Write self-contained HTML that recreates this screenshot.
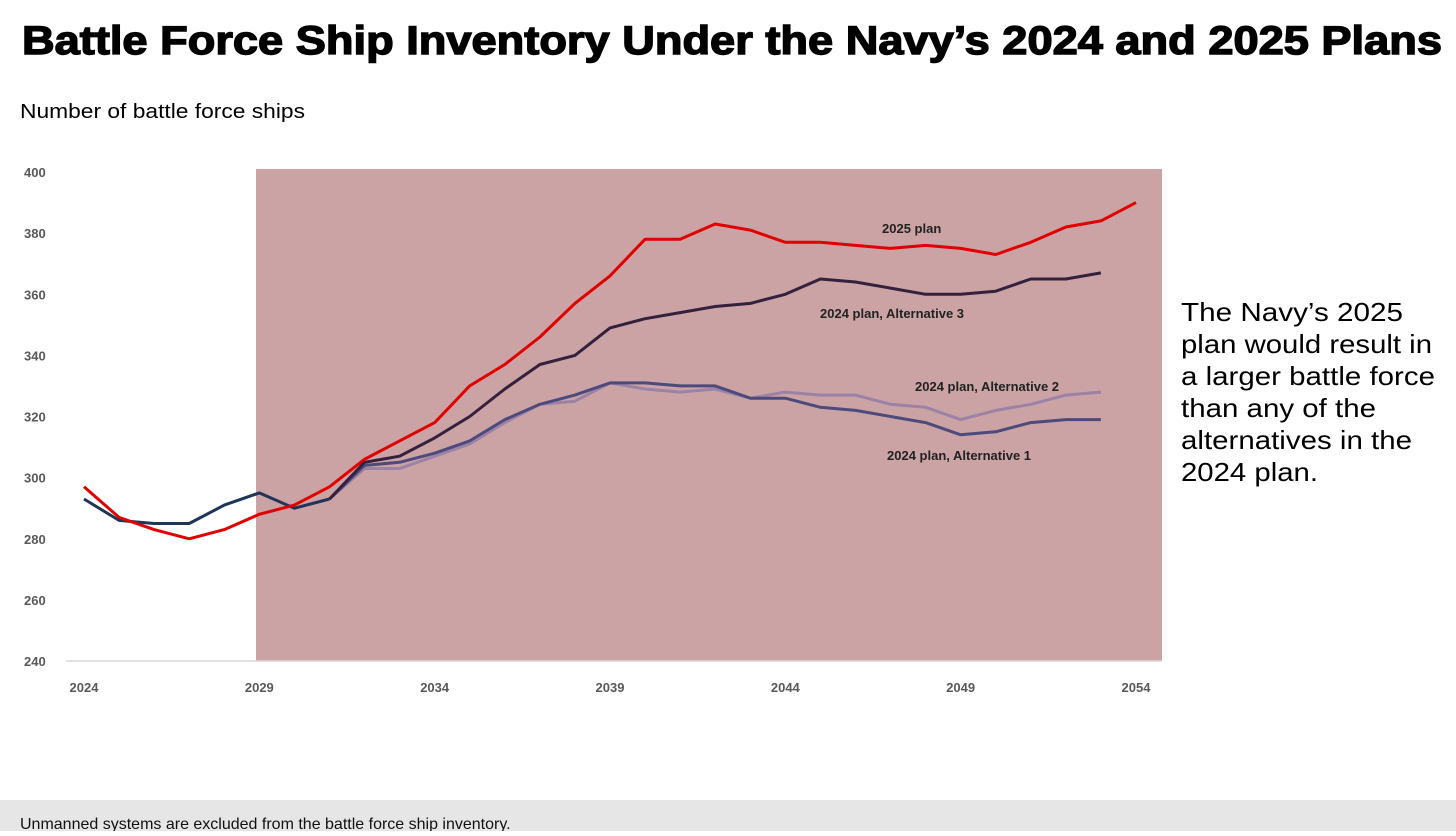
<!DOCTYPE html>
<html><head><meta charset="utf-8"><style>
html,body{margin:0;padding:0;background:#fff;}
body{width:1456px;height:831px;overflow:hidden;position:relative;font-family:"Liberation Sans",Arial,sans-serif;}
</style></head><body>
<svg id="chart" width="1456" height="831" xmlns="http://www.w3.org/2000/svg">
<text x="22" y="54" font-family="Liberation Sans, Arial, sans-serif" font-weight="bold" font-size="40" textLength="1420" lengthAdjust="spacingAndGlyphs" stroke="#000" stroke-width="1.4">Battle Force Ship Inventory Under the Navy’s 2024 and 2025 Plans</text>
<text x="20" y="118" font-size="20" textLength="285" lengthAdjust="spacingAndGlyphs" fill="#000">Number of battle force ships</text>
<rect x="256" y="169" width="906" height="492" fill="#cba3a4"/>
<line x1="66" y1="661" x2="1162" y2="661" stroke="#d9d9d9" stroke-width="1.5"/>
<g id="yticks"></g><g id="xticks"></g><g id="lines"></g>
<text x="882" y="233" font-size="13" font-weight="bold" fill="#222">2025 plan</text>
<text x="820" y="318" font-size="13" font-weight="bold" fill="#222">2024 plan, Alternative 3</text>
<text x="915" y="391" font-size="13" font-weight="bold" fill="#222">2024 plan, Alternative 2</text>
<text x="887" y="460" font-size="13" font-weight="bold" fill="#222">2024 plan, Alternative 1</text>
<g font-size="26" fill="#000" lengthAdjust="spacingAndGlyphs">
<text x="1181" y="321" textLength="222" lengthAdjust="spacingAndGlyphs">The Navy’s 2025</text>
<text x="1181" y="353" textLength="251" lengthAdjust="spacingAndGlyphs">plan would result in</text>
<text x="1181" y="385" textLength="254" lengthAdjust="spacingAndGlyphs">a larger battle force</text>
<text x="1181" y="417" textLength="195" lengthAdjust="spacingAndGlyphs">than any of the</text>
<text x="1181" y="449" textLength="231" lengthAdjust="spacingAndGlyphs">alternatives in the</text>
<text x="1181" y="481" textLength="137" lengthAdjust="spacingAndGlyphs">2024 plan.</text>
</g>
<rect x="0" y="800" width="1456" height="31" fill="#e6e6e6"/>
<text x="20" y="829" font-size="16" fill="#111">Unmanned systems are excluded from the battle force ship inventory.</text>
</svg>
<script>
const years=[];for(let y=2024;y<=2054;y++)years.push(y);
const yTicks=[240,260,280,300,320,340,360,380,400];
const xTicks=[2024,2029,2034,2039,2044,2049,2054];
const plan2025=[297,287,283,280,283,288,291,297,306,312,318,330,337,346,357,366,378,378,383,381,377,377,376,375,376,375,373,377,382,384,390];
const base2024=[293,286,285,285,291,295,290,293];
const alt1=[304,305,308,312,319,324,327,331,331,330,330,326,326,323,322,320,318,314,315,318,319,319];
const alt2=[303,303,307,311,318,324,325,331,329,328,329,326,328,327,327,324,323,319,322,324,327,328];
const alt3=[305,307,313,320,329,337,340,349,352,354,356,357,360,365,364,362,360,360,361,365,365,367];
const X=y=>84+(y-2024)*(1136-84)/30;
const Y=v=>661-(v-240)*(661-172)/160;
const NS="http://www.w3.org/2000/svg";
function mk(tag,attrs,parent){const e=document.createElementNS(NS,tag);for(const k in attrs)e.setAttribute(k,attrs[k]);parent.appendChild(e);return e;}
const yg=document.getElementById('yticks');
yTicks.forEach(v=>{const t=mk('text',{x:24,y:Y(v)+5,'font-size':13,'font-weight':'bold',fill:'#595959'},yg);t.textContent=v;

});
const xg=document.getElementById('xticks');
xTicks.forEach(v=>{const t=mk('text',{x:X(v),y:692,'font-size':13,'font-weight':'bold',fill:'#595959','text-anchor':'middle'},xg);t.textContent=v;

});
const lg=document.getElementById('lines');
function line(vals,start,color,name,w){
 const pts=vals.map((v,i)=>X(start+i).toFixed(1)+','+Y(v).toFixed(1)).join(' ');
 const p=mk('polyline',{points:pts,fill:'none',stroke:color,'stroke-width':w,'stroke-linejoin':'round'},lg);
 
 
}
line([base2024[7]].concat(alt2),2031,'#9c82a6','line-alt-2',3);
line([base2024[7]].concat(alt1),2031,'#4d4a7c','line-alt-1',3);
line(base2024,2024,'#1f3658','line-2024-base',3);
line([base2024[7]].concat(alt3),2031,'#35203e','line-alt-3',3);
line(plan2025,2024,'#e00000','line-2025-plan',3);
</script>
</body></html>
